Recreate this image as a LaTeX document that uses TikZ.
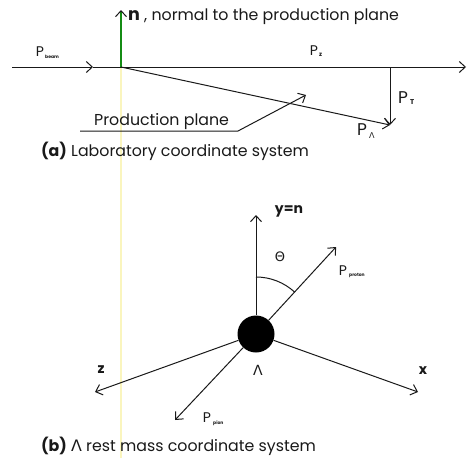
\documentclass[tikz,border=0pt]{standalone}
\usepackage{fontspec}
\setmainfont{Poppins}
\newfontfamily\greekfont{DejaVu Sans}
\usetikzlibrary{arrows.meta}
\definecolor{normgreen}{RGB}{20,140,20}
\definecolor{scanyellow}{RGB}{250,245,190}
\definecolor{ink}{RGB}{25,25,25}
\begin{document}
\begin{tikzpicture}[x=1pt,y=-1pt,
  ln/.style={line width=1pt, ink},
  barb/.style={-{Straight Barb[length=6pt,width=11pt,line width=1pt]}},
  lbl/.style={inner sep=0pt, text=ink, font=\fontsize{15.8}{18}\selectfont},
  captxt/.style={lbl, anchor=west},
  bigP/.style={inner sep=0pt, text=ink, font=\fontsize{14}{16}\selectfont},
  sub/.style={inner sep=0pt, text=ink, font=\fontsize{4.5}{5}\selectfont\bfseries},
  ballstyle/.style={circle, fill=black, minimum size=37pt, inner sep=0pt}]
\useasboundingbox (0,0) rectangle (468,458);
% scanning artefact
\draw[scanyellow, line width=1.5pt] (121,68) -- (121,458);
% ---------- (a) ----------
\coordinate (L) at (12,67);
\coordinate (B) at (93,67);
\coordinate (R) at (466,67);
\coordinate (O) at (121,67);
\coordinate (N) at (121,10);
\coordinate (T) at (390,67);
\coordinate (PL) at (390,125);
\coordinate (U1) at (80,131);
\coordinate (U2) at (238,131);
\coordinate (A) at (306,95);
\draw[ln, barb] (L) -- (B);
\draw[ln, barb] (B) -- (R);
\draw[line width=1.1pt, normgreen, -{Straight Barb[length=6pt,width=11pt,line width=1pt,color=ink]}] (O) -- (N);
\draw[ln, barb] (O) -- (PL);
\draw[ln, barb] (T) -- (PL);
\draw[ln, barb] (U1) -- (U2) -- (A);
\node[captxt] (ntext) at (128,17) {\textbf{\fontsize{17.5}{17.5}\selectfont n} , normal to the production plane};
\node[bigP] (pbeam) at (40,52) {P};
\node[sub, anchor=west] (pbeams) at (45,57) {beam};
\node[bigP] (pz) at (314,51) {P};
\node[sub, anchor=west] (pzs) at (319,55) {\fontsize{6}{6}\selectfont z};
\node[bigP, font=\fontsize{17}{19}\selectfont] (pt) at (403,98) {P};
\node[sub, anchor=west] (pts) at (410,102) {\fontsize{7}{7}\selectfont T};
\node[bigP, font=\fontsize{17}{19}\selectfont] (plam) at (362,130) {P};
\node[sub, anchor=west] (plams) at (369,136) {\greekfont\fontsize{8}{8}\selectfont\mdseries Λ};
\node[lbl, anchor=west] (prodtext) at (94,122) {Production plane};
\node[captxt] (capa) at (41,151) {\textbf{(a)} Laboratory coordinate system};
% ---------- (b) ----------
\node[ballstyle] (ball) at (256,334) {};
\coordinate (Y) at (256,215);
\coordinate (Pp) at (336,247);
\coordinate (X) at (418,392);
\coordinate (Z) at (95,392);
\coordinate (Pi) at (175,420);
\draw[ln, barb] (ball) -- (Y);
\draw[ln, barb] (ball) -- (Pp);
\draw[ln, barb] (ball) -- (X);
\draw[ln, barb] (ball) -- (Z);
\draw[ln, barb] (ball) -- (Pi);
\draw[ln] (256,277) arc[start angle=90, end angle=47.4, radius=57pt];
\node[lbl] (yn) at (289,211) {\textbf{\fontsize{14}{14}\selectfont y=n}};
\node[lbl] (theta) at (280,257) {\greekfont\fontsize{13}{15}\selectfont Θ};
\node[bigP] (pp) at (343,271) {P};
\node[sub, anchor=west] (pps) at (349,276) {proton};
\node[lbl] (xl) at (423,371) {\textbf{\fontsize{14}{14}\selectfont x}};
\node[lbl] (zl) at (101,370) {\textbf{\fontsize{14}{14}\selectfont z}};
\node[lbl] (laml) at (258,370) {\greekfont\fontsize{14}{14}\selectfont\mdseries Λ};
\node[bigP] (ppi) at (207,418) {P};
\node[sub, anchor=west] (ppis) at (213,423) {pion};
\node[captxt] (capb) at (41,446) {\textbf{(b)} {\greekfont Λ} rest mass coordinate system};
\end{tikzpicture}
\end{document}
